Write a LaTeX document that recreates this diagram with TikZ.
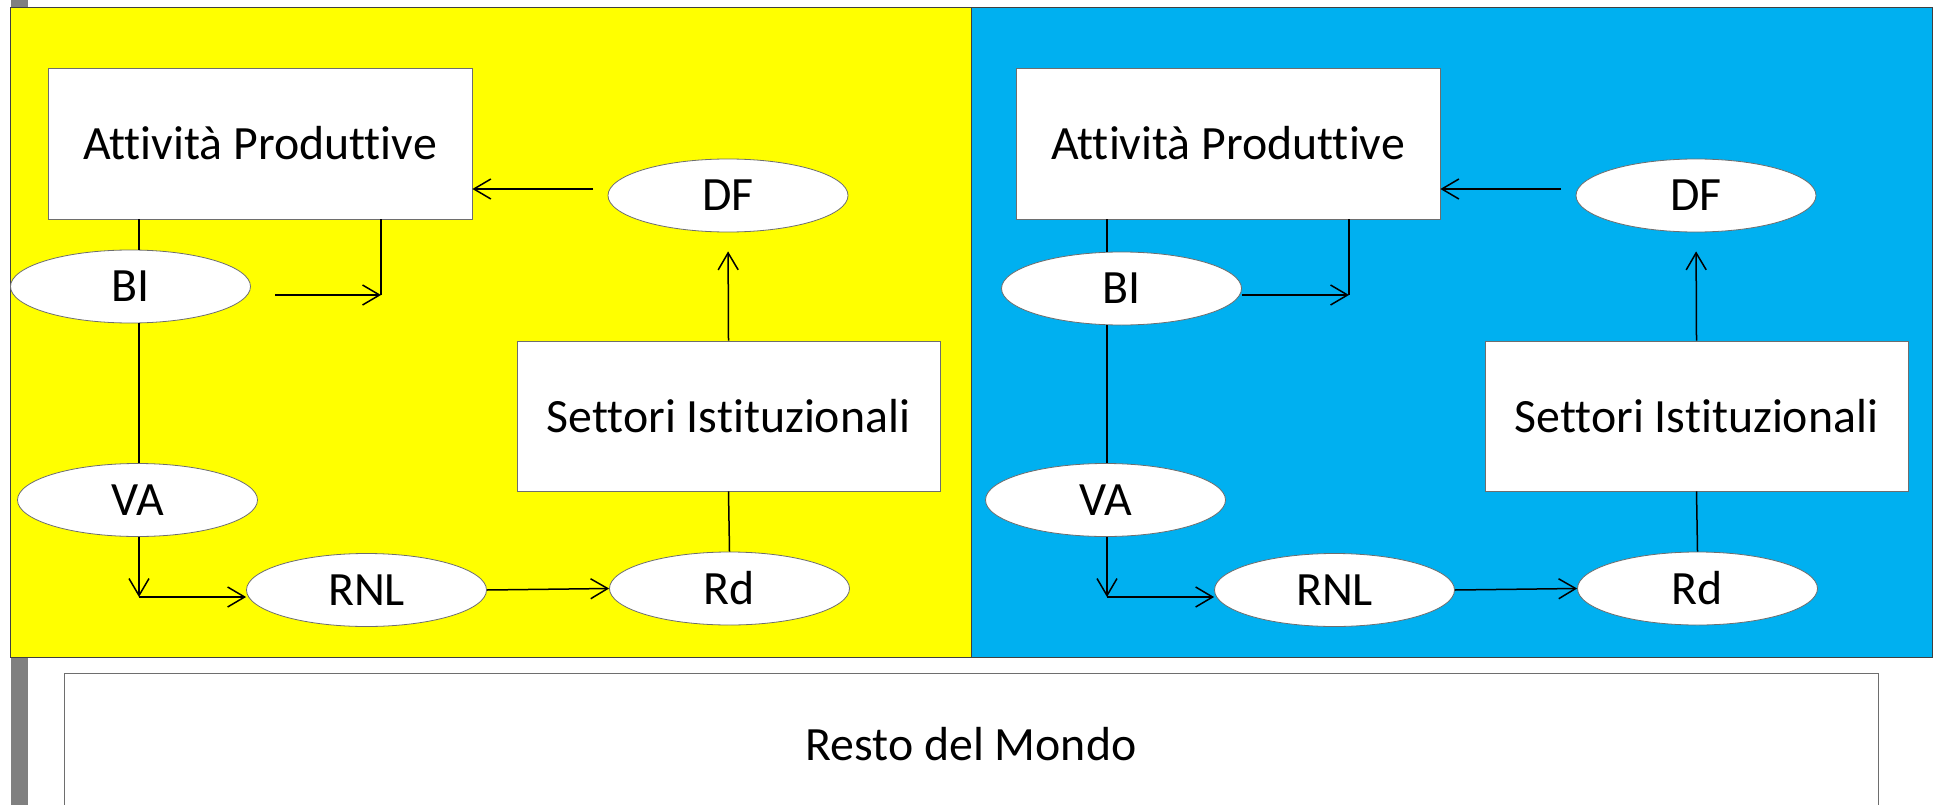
\documentclass[tikz,border=0pt]{standalone}
\usepackage{fontspec}
\setmainfont{Carlito}[Ligatures={NoCommon,NoContextual}]
\usetikzlibrary{shapes.geometric,arrows.meta}

\definecolor{panelyellow}{RGB}{255,255,0}
\definecolor{panelblue}{RGB}{0,176,240}
\definecolor{edgegray}{RGB}{110,110,110}
\definecolor{bargray}{RGB}{128,128,128}

\begin{document}
\begin{tikzpicture}[x=1pt,y=-1pt,
  label font/.style={font=\fontsize{47.8}{57}\selectfont},
  box/.style={rectangle,draw=edgegray,line width=0.8pt,fill=white,inner sep=0pt,minimum width=424pt,minimum height=151pt,label font},
  oval/.style={ellipse,draw=edgegray,line width=0.8pt,fill=white,inner sep=0pt,minimum width=240pt,minimum height=73pt,label font},
  link/.style={line width=1.5pt},
  arr/.style={line width=1.5pt,-{Straight Barb[length=17pt,width=20pt]}}]

\clip (0,0) rectangle (1934,805);
\fill[white] (0,0) rectangle (1934,805);
\fill[bargray] (11,0) rectangle (28,805);

\filldraw[fill=panelyellow,draw=black!75,line width=0.8pt] (10,7) rectangle (971,657);
\filldraw[fill=panelblue,draw=black!75,line width=0.8pt] (971,7) rectangle (1932,657);

\node[box,minimum width=1814pt,minimum height=142pt] (rdm) at (971,744) {Resto del Mondo};

\node[box] (apL) at (260,143.5) {Attività Produttive};
\node[oval] (dfL) at (728,195.5) {DF};
\node[box,minimum width=423pt,minimum height=150pt] (siL) at (728.5,416) {Settori Istituzionali};
\node[oval] (biL) at (130.5,286.5) {BI};
\node[oval] (vaL) at (137.5,500) {VA};
\node[oval] (rnlL) at (366.5,590) {RNL};
\node[oval] (rdL) at (729.5,588.5) {Rd};
\coordinate (jL) at (139,597);
\coordinate (kL) at (381,295);
\coordinate (biLout) at (275,295);
\coordinate (dfLout) at (593,189);

\draw[arr] (dfLout) -- (apL.east |- dfLout);
\draw[link] (apL.south -| jL) -- (biL.north -| jL);
\draw[link] (biL.south -| jL) -- (vaL.north -| jL);
\draw[arr] (vaL.south -| jL) -- (jL);
\draw[arr] (jL) -- (rnlL.west |- jL);
\draw[arr] (biLout) -- (kL);
\draw[link] (kL) -- (apL.south -| kL);
\draw[arr] (rnlL.east) -- (rdL.west);
\draw[link] (rdL.north) -- (siL.south);
\draw[arr,shorten >=19pt] (siL.north) -- (dfL.south);

\node[box] (apR) at (1228,143.5) {Attività Produttive};
\node[oval] (dfR) at (1696,195.5) {DF};
\node[box,minimum width=423pt,minimum height=150pt] (siR) at (1696.5,416) {Settori Istituzionali};
\node[oval] (biR) at (1121.5,288.5) {BI};
\node[oval] (vaR) at (1105.5,500) {VA};
\node[oval] (rnlR) at (1334.5,590) {RNL};
\node[oval] (rdR) at (1697.5,588.5) {Rd};
\coordinate (jR) at (1107,597);
\coordinate (kR) at (1349,295);
\coordinate (dfRout) at (1561,189);

\draw[arr] (dfRout) -- (apR.east |- dfRout);
\draw[link] (apR.south -| jR) -- (biR.north -| jR);
\draw[link] (biR.south -| jR) -- (vaR.north -| jR);
\draw[arr] (vaR.south -| jR) -- (jR);
\draw[arr] (jR) -- (rnlR.west |- jR);
\draw[arr] (biR.east |- kR) -- (kR);
\draw[link] (kR) -- (apR.south -| kR);
\draw[arr] (rnlR.east) -- (rdR.west);
\draw[link] (rdR.north) -- (siR.south);
\draw[arr,shorten >=19pt] (siR.north) -- (dfR.south);
\end{tikzpicture}
\end{document}
